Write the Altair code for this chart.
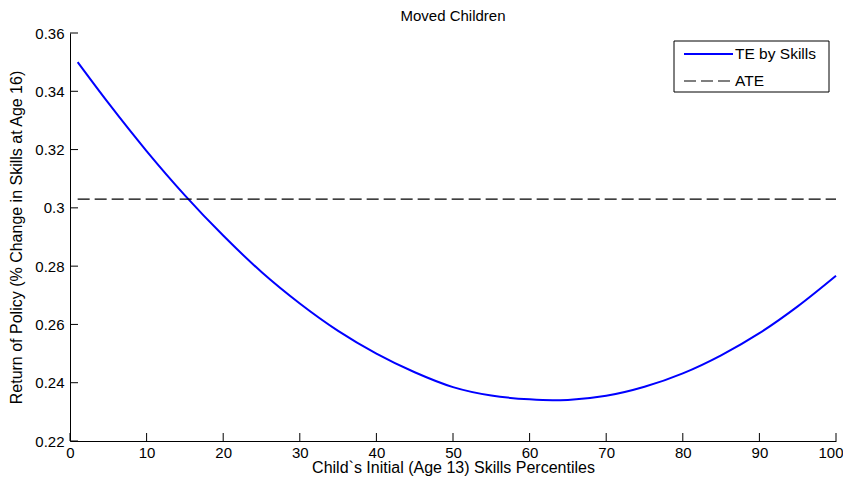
import altair as alt
import pandas as pd

# Data
x_vals = [1, 5, 10, 15, 20, 25, 30, 35, 40, 45, 50, 55, 60, 63, 65, 70, 75, 80, 85, 90, 95, 100]
te_vals = [0.3500, 0.3360, 0.3195, 0.3043, 0.2905, 0.2780, 0.2672, 0.2578, 0.2500, 0.2436,
           0.2385, 0.2356, 0.2343, 0.2340, 0.2341, 0.2355, 0.2386, 0.2432, 0.2494, 0.2570,
           0.2662, 0.2767]
ate_value = 0.303
ate_x = [1, 100]
x_ticks = [0, 10, 20, 30, 40, 50, 60, 70, 80, 90, 100]
y_ticks = [0.22, 0.24, 0.26, 0.28, 0.30, 0.32, 0.34, 0.36]
legend_labels = ["TE by Skills", "ATE"]

FONT = "Liberation Sans"
FS = 15
FT = 16
W, H = 766, 408

te_df = pd.DataFrame({"x": x_vals, "y": te_vals})
ate_df = pd.DataFrame({"x": ate_x, "y": [ate_value] * len(ate_x)})
xt_df = pd.DataFrame({"x": x_ticks})
yt_df = pd.DataFrame({"y": y_ticks})

xscale = alt.Scale(domain=[0, 100], nice=False, zero=False)
yscale = alt.Scale(domain=[0.22, 0.36], nice=False, zero=False)

common = dict(tickSize=0, grid=False, domainColor="#000000", domainWidth=1,
              labelColor="#000000", titleColor="#000000", labelFont=FONT, titleFont=FONT,
              labelFontSize=FS, titleFontSize=FT, titleFontWeight="normal",
              labelFlush=False, labelOverlap=False)
x_axis = alt.Axis(values=x_ticks, labelPadding=4,
                  labelAlign={"condition": {"test": "datum.value == 100", "value": "right"},
                              "value": "center"},
                  labelOffset={"condition": {"test": "datum.value == 100", "value": 7},
                               "value": 0},
                  title="Child`s Initial (Age 13) Skills Percentiles",
                  titleBaseline="alphabetic", titleY=31.5, **common)
y_axis = alt.Axis(values=y_ticks, labelPadding=6, format=".2~f",
                  title="Return of Policy (% Change in Skills at Age 16)",
                  titlePadding=10, **common)

te_line = alt.Chart(te_df).mark_line(color="#0000FF", strokeWidth=2, interpolate="monotone").encode(
    x=alt.X("x:Q", scale=xscale, axis=x_axis),
    y=alt.Y("y:Q", scale=yscale, axis=y_axis),
)

ate_line = alt.Chart(ate_df).mark_line(color="#000000", strokeWidth=1.2, strokeDash=[12, 5]).encode(
    x=alt.X("x:Q", scale=xscale),
    y=alt.Y("y:Q", scale=yscale),
)

# inward ticks
xticks_m = alt.Chart(xt_df).mark_rule(color="#000000", strokeWidth=1).encode(
    x=alt.X("x:Q", scale=xscale),
    y=alt.value(H),
    y2=alt.value(H - 8),
)
yticks_m = alt.Chart(yt_df).mark_rule(color="#000000", strokeWidth=1).encode(
    y=alt.Y("y:Q", scale=yscale),
    x=alt.value(0),
    x2=alt.value(8),
)

# manual legend
one = pd.DataFrame({"a": [0]})
box = alt.Chart(one).mark_rect(
    fill="#FFFFFF", stroke="#000000", strokeWidth=1).encode(
    x=alt.value(604), x2=alt.value(759), y=alt.value(8), y2=alt.value(59))
leg_te = alt.Chart(one).mark_rule(color="#0000FF", strokeWidth=2).encode(
    x=alt.value(614), x2=alt.value(663), y=alt.value(21))
leg_ate = alt.Chart(one).mark_rule(
    color="#000000", strokeWidth=1.2, strokeDash=[12, 5]).encode(
    x=alt.value(614), x2=alt.value(663), y=alt.value(48))
leg_text1 = alt.Chart(one).mark_text(
    align="left", baseline="middle", font=FONT, fontSize=15.5, color="#000000",
    text=legend_labels[0]).encode(x=alt.value(665), y=alt.value(21))
leg_text2 = alt.Chart(one).mark_text(
    align="left", baseline="middle", font=FONT, fontSize=15.5, color="#000000",
    text=legend_labels[1]).encode(x=alt.value(665), y=alt.value(48))

chart = alt.layer(
    te_line, ate_line, xticks_m, yticks_m, box, leg_te, leg_ate, leg_text1, leg_text2
).properties(
    width=W, height=H,
    background="white",
    title=alt.TitleParams("Moved Children", font=FONT, fontSize=FS, fontWeight="normal",
                          color="#000000", offset=2, anchor="middle"),
    padding={"left": 62, "top": 25, "right": 7, "bottom": 35},
    autosize=alt.AutoSizeParams(type="none"),
).configure_view(strokeWidth=0, stroke="transparent")

chart.save("out.html", embed_options={"renderer": "svg", "actions": False})
